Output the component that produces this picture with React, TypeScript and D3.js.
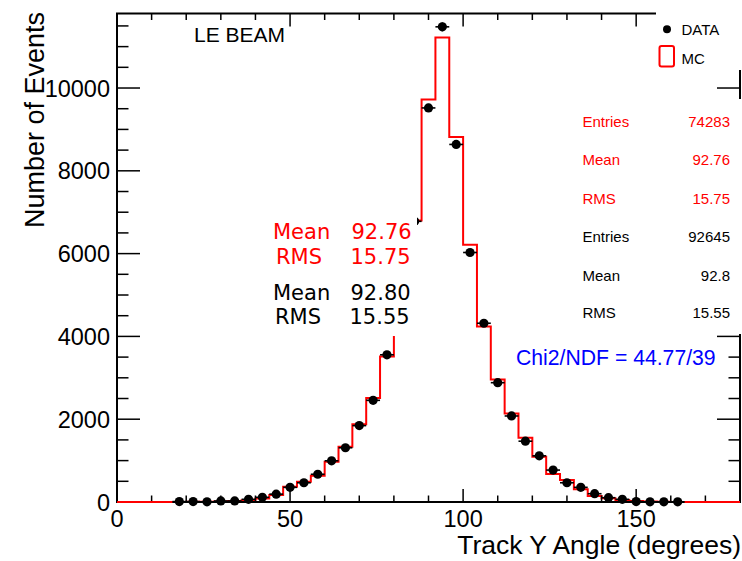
import React from 'react';
import * as d3 from 'd3';

// ---- data ----
const binWidth = 4;
const mcLowEdges = d3.range(0, 180, 4);
const mcCounts = [0, 0, 0, 0, 3, 5, 8, 15, 25, 40, 85, 170, 368, 489, 633, 970, 1332, 1878, 2512, 3516, 4900, 6800, 9721, 11221, 8815, 6212, 4238, 2962, 2135, 1549, 1091, 674, 530, 306, 144, 89, 48, 24, 10, 5, 3, 0, 0, 0, 0];
const dataCenters = [18, 22, 26, 30, 34, 38, 42, 46, 50, 54, 58, 62, 66, 70, 74, 78, 82, 86, 90, 94, 98, 102, 106, 110, 114, 118, 122, 126, 130, 134, 138, 142, 146, 150, 154, 158, 162];
const dataCounts = [10, 10, 5, 25, 25, 65, 113, 190, 354, 465, 670, 995, 1310, 1845, 2456, 3556, 4800, 6780, 9519, 11478, 8637, 6027, 4318, 2882, 2078, 1469, 1115, 771, 465, 354, 200, 104, 65, 10, 5, 5, 5];
const xMajorTicks = [0, 50, 100, 150];
const xMinorTicks = d3.range(0, 181, 10);
const yMajorTicks = [0, 2000, 4000, 6000, 8000, 10000];
const yMinorTicks = d3.range(0, 11801, 500);
const statsLabels = ['Entries', 'Mean', 'RMS', 'Entries', 'Mean', 'RMS'];
const statsValues = ['74283', '92.76', '15.75', '92645', '92.8', '15.55'];
const statsColors = ['#ff0000', '#ff0000', '#ff0000', '#000000', '#000000', '#000000'];
const overlayLabels = ['Mean', 'RMS', 'Mean', 'RMS'];
const overlayValues = ['92.76', '15.75', '92.80', '15.55'];
const overlayColors = ['#ff0000', '#ff0000', '#000000', '#000000'];

const W = 742, H = 561;
const X0 = 117, X1 = 740, Y0 = 502, Y1 = 13.5;
const FONT = "'Liberation Sans', Arial, Helvetica, sans-serif";

export default function App() {
  const x = d3.scaleLinear().domain([0, 180]).range([X0, X1]);
  const y = d3.scaleLinear().domain([0, 11800]).range([Y0, Y1]);

  const pts: [number, number][] = [[0, 0]];
  mcLowEdges.forEach((lo, i) => {
    pts.push([lo, mcCounts[i]]);
    pts.push([lo + binWidth, mcCounts[i]]);
  });
  pts.push([180, 0]);
  const line = d3.line<[number, number]>().x(d => x(d[0])).y(d => y(d[1]));
  const mcPath = line(pts) || '';

  return (
    <svg width={W} height={H} style={{ position: 'absolute', left: 0, top: 0, display: 'block', background: '#fff' }}>
      <rect x={0} y={0} width={W} height={H} fill="#fff" />
      {/* MC histogram */}
      <path d={mcPath} fill="none" stroke="#ff0000" strokeWidth={2} />
      {/* Data points */}
      {dataCenters.map((c, i) => {
        const v = dataCounts[i];
        const e = Math.sqrt(v);
        return (
          <g key={'d' + i}>
            <line x1={x(c - binWidth / 2)} x2={x(c + binWidth / 2)} y1={y(v)} y2={y(v)} stroke="#000" strokeWidth={1.6} />
            <line x1={x(c)} x2={x(c)} y1={y(v - e)} y2={y(v + e)} stroke="#000" strokeWidth={1.6} />
            <circle cx={x(c)} cy={y(v)} r={4.6} fill="#000" />
          </g>
        );
      })}
      {/* frame */}
      <rect x={X0} y={Y1} width={X1 - X0} height={Y0 - Y1} fill="none" stroke="#000" strokeWidth={2} />
      {/* x ticks */}
      {xMinorTicks.map(t => {
        const major = xMajorTicks.includes(t);
        const len = major ? 13 : 6.5;
        return (
          <g key={'xt' + t}>
            <line x1={x(t)} x2={x(t)} y1={Y0} y2={Y0 - len} stroke="#000" strokeWidth={1.5} />
            <line x1={x(t)} x2={x(t)} y1={Y1} y2={Y1 + len} stroke="#000" strokeWidth={1.5} />
          </g>
        );
      })}
      {/* y ticks */}
      {yMinorTicks.map(t => {
        const major = yMajorTicks.includes(t);
        const len = major ? 23 : 11.5;
        return (
          <g key={'yt' + t}>
            <line x1={X0} x2={X0 + len} y1={y(t)} y2={y(t)} stroke="#000" strokeWidth={1.5} />
            <line x1={X1} x2={X1 - len} y1={y(t)} y2={y(t)} stroke="#000" strokeWidth={1.5} />
          </g>
        );
      })}
      {/* red baseline of histogram drawn over axis */}
      <line x1={x(0)} x2={x(16)} y1={y(0)} y2={y(0)} stroke="#ff0000" strokeWidth={2} />
      <line x1={x(164)} x2={x(180)} y1={y(0)} y2={y(0)} stroke="#ff0000" strokeWidth={2} />
      {/* tick labels */}
      {xMajorTicks.map(t => (
        <text key={'xl' + t} x={x(t)} y={527} textAnchor="middle" fontFamily={FONT} fontSize={23.5} fill="#000">{t}</text>
      ))}
      {yMajorTicks.map(t => (
        <text key={'yl' + t} x={110} y={y(t) + 8.5} textAnchor="end" fontFamily={FONT} fontSize={23.5} fill="#000">{t}</text>
      ))}
      {/* axis titles */}
      <text x={741} y={554} textAnchor="end" fontFamily={FONT} fontSize={26.5} fill="#000">Track Y Angle (degrees)</text>
      <text transform={`translate(43.5,12) rotate(-90)`} textAnchor="end" fontFamily={FONT} fontSize={27} fill="#000">Number of Events</text>
      {/* LE BEAM */}
      <text x={194} y={42} fontFamily={FONT} fontSize={21} fill="#000">LE BEAM</text>
      {/* overlay box */}
      <rect x={262} y={215} width={155} height={121} fill="#fff" />
      {overlayLabels.map((l, i) => {
        const by = [238.5, 263.5, 299.5, 323.5][i];
        const lx = [273, 276, 273, 275][i];
        const vx = [351.5, 350.5, 350.5, 349.5][i];
        return (
          <g key={'ov' + i}>
            <text x={lx} y={by} fontFamily="'DejaVu Sans', sans-serif" fontSize={21} fill={overlayColors[i]}>{l}</text>
            <text x={vx} y={by} fontFamily="'DejaVu Sans', sans-serif" fontSize={21} fill={overlayColors[i]}>{overlayValues[i]}</text>
          </g>
        );
      })}
      {/* stats box */}
      <rect x={572} y={99} width={170} height={235} fill="#fff" />
      {statsLabels.map((l, i) => {
        const by = [126.6, 165, 203.6, 242, 280.6, 318.3][i];
        return (
          <g key={'st' + i}>
            <text x={582.5} y={by} fontFamily={FONT} fontSize={15} fill={statsColors[i]}>{l}</text>
            <text x={730} y={by} textAnchor="end" fontFamily={FONT} fontSize={15} fill={statsColors[i]}>{statsValues[i]}</text>
          </g>
        );
      })}
      {/* chi2 */}
      <text x={516} y={365} fontFamily={FONT} fontSize={21.2} fill="#0000ff">Chi2/NDF = 44.77/39</text>
      {/* legend */}
      <rect x={656} y={0} width={86} height={70} fill="#fff" />
      <circle cx={667} cy={29.3} r={4} fill="#000" />
      <text x={681.5} y={35} fontFamily={FONT} fontSize={15} fill="#000">DATA</text>
      <rect x={659.5} y={46} width={14.5} height={20.5} rx={2} fill="none" stroke="#ff0000" strokeWidth={2} />
      <text x={681.5} y={64} fontFamily={FONT} fontSize={15} fill="#000">MC</text>
    </svg>
  );
}
